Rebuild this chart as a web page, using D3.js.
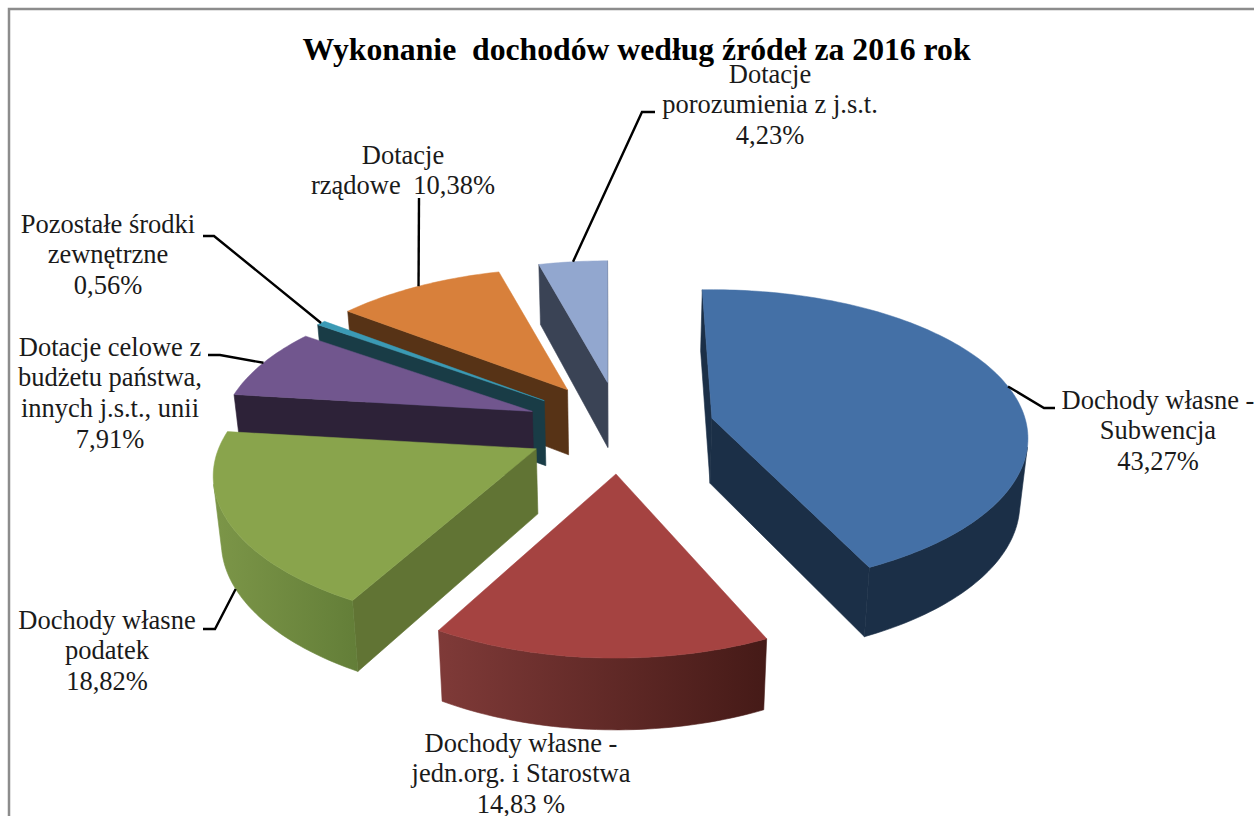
<!DOCTYPE html>
<html><head><meta charset="utf-8">
<script src="https://cdn.jsdelivr.net/npm/d3@7"></script>
<style>html,body{margin:0;padding:0;background:#fff;overflow:hidden}
text{font-family:"Liberation Serif",serif;fill:#1a1a1a}</style></head>
<body><svg id="c" width="1254" height="816"></svg>
<script>
const categories = ["Dochody własne - Subwencja","Dochody własne - jedn.org. i Starostwa","Dochody własne podatek","Dotacje celowe z budżetu państwa, innych j.s.t., unii","Pozostałe środki zewnętrzne","Dotacje rządowe","Dotacje porozumienia z j.s.t."];
const values = [43.27,14.83,18.82,7.91,0.56,10.38,4.23];
const topColors = ["#4470A6","#A54341","#89A44C","#71568E","#3B9AB5","#D8803B","#92A7CF"];
const wallColors = ["#1B2F47","#3F1A17","#617434","#2D2238","#193C46","#573316","#3A4355"];
const rimFrom = ["#1B2F47","#7F3A38","#7C9648","#2D2238","#193C46","#573316","#3A4355"];
const rimTo = ["#1B2F47","#451A17","#637E38","#2D2238","#193C46","#573316","#3A4355"];
const labelLines = [
 ["Dochody własne -","Subwencja","43,27%"],
 ["Dochody własne -","jedn.org. i Starostwa","14,83 %"],
 ["Dochody własne","podatek","18,82%"],
 ["Dotacje celowe z","budżetu państwa,","innych j.s.t., unii","7,91%"],
 ["Pozostałe środki","zewnętrzne","0,56%"],
 ["Dotacje","rządowe 10,38%"],
 ["Dotacje","porozumienia z j.s.t.","4,23%"]];
const title = "Wykonanie  dochodów według źródeł za 2016 rok";

// layout
const cx=620, cy=428, rx=307, ry=151, ex=94, ey=46, depth=65, lean=0.02;
const persp=[0.135,0.18,0.18,0.18,0.18,0.18,0.18];
const turnDeg=[-2,0,0,0,0,0,0];
const stretchX=[1.02,1,1.035,1,1,1,1], stretchY=[0.967,1,0.97,0.95,0.96,0.95,0.95];
const labelX=[1158,521,107,110,108,403,770], labelY=[400,743,620,347,224,155,74];
const wordGap=[0,0,0,0,0,6,0];
const lineGap=30.6;
const leaderAttach=[77,null,null,null,null,null,null];
const leaderElbow=[[[1044,408],[1055,408]],null,[[215,629],[203,629]],[[220,355],[208,355]],[[214,236],[203,236]],[[419,198]],[[642,112],[655,112]]];
const paintOrder=[6,5,4,3,2,1,0];

const svg=d3.select("#c");
const defs=svg.append("defs");
svg.append("rect").attr("x",9).attr("y",9).attr("width",1260).attr("height",840).attr("fill","#fff").attr("stroke","#8c8c8c").attr("stroke-width",2.5);

const arcs=d3.pie().sort(null).value(d=>d)(values);
const line=d3.line();
function apexOf(i){const a=arcs[i],m=(a.startAngle+a.endAngle)/2;return [cx+ex*Math.sin(m),cy-ey*Math.cos(m)];}
function rimPt(i,th,rad=1){const [ax,ay]=apexOf(i),X=rad*Math.sin(th),Y=-rad*Math.cos(th),w=1/(1-persp[i]*Y);return {x:ax+rx*stretchX[i]*X*w,y:ay+ry*stretchY[i]*Y*w,w};}
function lower(p){return {x:p.x-(p.x-cx)*lean,y:p.y+depth*Math.sqrt(p.w)};}
const xy=p=>[p.x,p.y];
function face(g,pts,color){
  const q=pts.map(xy);
  if(d3.polygonArea(q)<=0) return;
  g.append("path").attr("d",line(q)+"Z").attr("fill",color).attr("stroke",color).attr("stroke-width",0.6);
}
paintOrder.forEach(i=>{
  const a=arcs[i],g=svg.append("g").attr("class","slice");
  const turn=turnDeg[i]*Math.PI/180;
  const n=Math.max(4,Math.ceil((a.endAngle-a.startAngle)/0.02));
  const ths=d3.range(n+1).map(j=>a.startAngle+turn+(a.endAngle-a.startAngle)*j/n);
  const rim=ths.map(t=>rimPt(i,t));
  const apex=rimPt(i,0,0);
  face(g,[apex,rim[0],lower(rim[0]),lower(apex)],wallColors[i]);
  face(g,[rim[n],apex,lower(apex),lower(rim[n])],wallColors[i]);
  const seen=d3.range(n).filter(j=>d3.polygonArea([rim[j],rim[j+1],lower(rim[j+1]),lower(rim[j])].map(xy))>0);
  if(seen.length){
    const run=rim.slice(seen[0],seen[seen.length-1]+2);
    const xs=d3.extent(run.concat(run.map(lower)),p=>p.x);
    const id="wall"+i;
    const grad=defs.append("linearGradient").attr("id",id).attr("gradientUnits","userSpaceOnUse")
      .attr("x1",xs[0]).attr("x2",xs[1]).attr("y1",0).attr("y2",0);
    grad.append("stop").attr("offset",0).attr("stop-color",rimFrom[i]);
    grad.append("stop").attr("offset",1).attr("stop-color",rimTo[i]);
    g.append("path").attr("d",line(run.concat(run.map(lower).reverse()).map(xy))+"Z").attr("fill",`url(#${id})`).attr("stroke",`url(#${id})`).attr("stroke-width",0.6);
  }
  g.append("path").attr("d",line([xy(apex),...rim.map(xy)])+"Z").attr("fill",topColors[i]).attr("stroke",topColors[i]).attr("stroke-width",0.5);
});

arcs.forEach((a,i)=>{
  if(!leaderElbow[i]) return;
  const th=leaderAttach[i]!=null?leaderAttach[i]*Math.PI/180:(a.startAngle+a.endAngle)/2;
  let p=rimPt(i,th);
  if(i===2) p=lower(p);
  svg.append("path").attr("d",line([xy(p),...leaderElbow[i]])).attr("fill","none").attr("stroke","#000").attr("stroke-width",2.4);
});

labelLines.forEach((ls,i)=>{
  const t=svg.append("text").attr("text-anchor","middle").attr("font-size",26.5).attr("word-spacing",wordGap[i]);
  ls.forEach((s,j)=>t.append("tspan").attr("x",labelX[i]).attr("y",labelY[i]+j*lineGap).attr("dy","0.33em").text(s));
});
svg.append("text").attr("x",636.5).attr("y",50).attr("dy","0.33em").attr("text-anchor","middle").attr("font-size",31.7).attr("font-weight","bold").style("fill","#000").style("white-space","pre").text(title);
</script></body></html>
